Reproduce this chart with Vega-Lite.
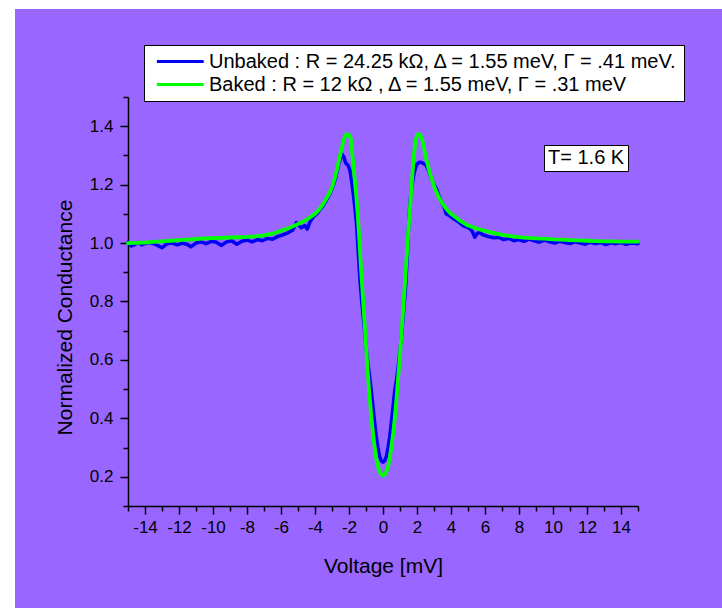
{
  "$schema": "https://vega.github.io/schema/vega-lite/v6.json",
  "width": 707,
  "height": 599,
  "autosize": {"type": "none"},
  "padding": {"left": 15, "top": 9, "right": 0, "bottom": 0},
  "background": "white",
  "view": {"fill": "#9966FF", "stroke": null},
  "config": {"font": "Liberation Sans"},
  "datasets": {
    "unbaked": [
      {"v":-15,"g":1.003},{"v":-14.8,"g":0.99},{"v":-14.6,"g":0.995},{"v":-14.4,"g":1.002},{"v":-14.2,"g":0.994},{"v":-14,"g":0.998},{"v":-13.7,"g":1.002},{"v":-13.4,"g":0.996},{"v":-13,"g":0.984},{"v":-12.7,"g":0.998},{"v":-12.4,"g":1.0},{"v":-12.1,"g":0.994},{"v":-11.8,"g":1.0},{"v":-11.5,"g":0.995},{"v":-11.3,"g":0.987},{"v":-11,"g":1.0},{"v":-10.7,"g":1.004},{"v":-10.4,"g":0.998},{"v":-10.1,"g":1.006},{"v":-9.8,"g":1.003},{"v":-9.5,"g":0.992},{"v":-9.2,"g":1.004},{"v":-8.9,"g":1.008},{"v":-8.6,"g":0.996},{"v":-8.3,"g":1.006},{"v":-8,"g":1.01},{"v":-7.7,"g":1.004},{"v":-7.4,"g":1.012},{"v":-7.1,"g":1.008},{"v":-6.8,"g":1.016},{"v":-6.5,"g":1.013},{"v":-6.2,"g":1.022},{"v":-5.9,"g":1.028},{"v":-5.6,"g":1.035},{"v":-5.3,"g":1.045},{"v":-5.1,"g":1.07},{"v":-4.95,"g":1.06},{"v":-4.8,"g":1.052},{"v":-4.6,"g":1.06},{"v":-4.46,"g":1.048},{"v":-4.3,"g":1.072},{"v":-4.1,"g":1.09},{"v":-3.9,"g":1.1},{"v":-3.7,"g":1.115},{"v":-3.5,"g":1.13},{"v":-3.25,"g":1.155},{"v":-3,"g":1.185},{"v":-2.8,"g":1.22},{"v":-2.65,"g":1.26},{"v":-2.5,"g":1.29},{"v":-2.42,"g":1.305},{"v":-2.3,"g":1.295},{"v":-2.2,"g":1.275},{"v":-2.05,"g":1.265},{"v":-1.95,"g":1.25},{"v":-1.85,"g":1.215},{"v":-1.75,"g":1.17},{"v":-1.65,"g":1.12},{"v":-1.55,"g":1.06},{"v":-1.45,"g":0.96},{"v":-1.35,"g":0.87},{"v":-1.25,"g":0.8},{"v":-1.1,"g":0.71},{"v":-1,"g":0.65},{"v":-0.9,"g":0.59},{"v":-0.8,"g":0.55},{"v":-0.7,"g":0.5},{"v":-0.6,"g":0.445},{"v":-0.5,"g":0.39},{"v":-0.4,"g":0.34},{"v":-0.3,"g":0.3},{"v":-0.2,"g":0.27},{"v":-0.1,"g":0.255},{"v":0,"g":0.25},{"v":0.1,"g":0.255},{"v":0.2,"g":0.27},{"v":0.3,"g":0.3},{"v":0.4,"g":0.34},{"v":0.5,"g":0.39},{"v":0.6,"g":0.445},{"v":0.7,"g":0.5},{"v":0.8,"g":0.533},{"v":0.9,"g":0.58},{"v":1,"g":0.63},{"v":1.1,"g":0.69},{"v":1.2,"g":0.76},{"v":1.3,"g":0.83},{"v":1.35,"g":0.87},{"v":1.42,"g":0.95},{"v":1.48,"g":1.03},{"v":1.55,"g":1.1},{"v":1.62,"g":1.16},{"v":1.68,"g":1.19},{"v":1.8,"g":1.23},{"v":1.9,"g":1.255},{"v":2,"g":1.27},{"v":2.16,"g":1.277},{"v":2.3,"g":1.275},{"v":2.45,"g":1.27},{"v":2.55,"g":1.265},{"v":2.7,"g":1.245},{"v":2.85,"g":1.22},{"v":3,"g":1.2},{"v":3.14,"g":1.187},{"v":3.3,"g":1.16},{"v":3.45,"g":1.14},{"v":3.6,"g":1.122},{"v":3.72,"g":1.1},{"v":3.9,"g":1.095},{"v":4.1,"g":1.085},{"v":4.3,"g":1.078},{"v":4.5,"g":1.07},{"v":4.7,"g":1.06},{"v":4.9,"g":1.055},{"v":5.1,"g":1.05},{"v":5.25,"g":1.04},{"v":5.4,"g":1.02},{"v":5.55,"g":1.034},{"v":5.7,"g":1.035},{"v":5.9,"g":1.028},{"v":6.2,"g":1.022},{"v":6.5,"g":1.018},{"v":6.8,"g":1.02},{"v":7.1,"g":1.012},{"v":7.4,"g":1.016},{"v":7.7,"g":1.008},{"v":8,"g":1.012},{"v":8.3,"g":1.006},{"v":8.6,"g":1.014},{"v":8.9,"g":1.008},{"v":9.2,"g":1.003},{"v":9.5,"g":1.01},{"v":9.8,"g":1.004},{"v":10.1,"g":1.0},{"v":10.4,"g":1.006},{"v":10.7,"g":1.002},{"v":11,"g":0.998},{"v":11.3,"g":1.004},{"v":11.6,"g":1.0},{"v":11.9,"g":0.996},{"v":12.2,"g":1.003},{"v":12.5,"g":0.998},{"v":12.8,"g":1.002},{"v":13.1,"g":0.995},{"v":13.4,"g":1.001},{"v":13.7,"g":0.998},{"v":14,"g":1.002},{"v":14.3,"g":0.996},{"v":14.6,"g":1.0},{"v":15,"g":0.998}
    ],
    "baked": [
      {"v":-15,"g":1.0},{"v":-14.5,"g":1.001},{"v":-14,"g":1.002},{"v":-13.5,"g":1.004},{"v":-13,"g":1.006},{"v":-12.5,"g":1.008},{"v":-12,"g":1.01},{"v":-11.5,"g":1.012},{"v":-11,"g":1.014},{"v":-10.5,"g":1.016},{"v":-10,"g":1.017},{"v":-9.5,"g":1.018},{"v":-9,"g":1.019},{"v":-8.5,"g":1.02},{"v":-8,"g":1.021},{"v":-7.5,"g":1.023},{"v":-7,"g":1.026},{"v":-6.5,"g":1.032},{"v":-6,"g":1.042},{"v":-5.5,"g":1.052},{"v":-5,"g":1.065},{"v":-4.5,"g":1.08},{"v":-4,"g":1.1},{"v":-3.75,"g":1.115},{"v":-3.5,"g":1.135},{"v":-3.25,"g":1.16},{"v":-3,"g":1.19},{"v":-2.8,"g":1.23},{"v":-2.6,"g":1.28},{"v":-2.45,"g":1.32},{"v":-2.3,"g":1.355},{"v":-2.2,"g":1.37},{"v":-2.1,"g":1.373},{"v":-2,"g":1.37},{"v":-1.9,"g":1.36},{"v":-1.8,"g":1.3},{"v":-1.7,"g":1.24},{"v":-1.6,"g":1.18},{"v":-1.5,"g":1.11},{"v":-1.4,"g":1.02},{"v":-1.3,"g":0.92},{"v":-1.2,"g":0.83},{"v":-1.1,"g":0.74},{"v":-1,"g":0.65},{"v":-0.9,"g":0.56},{"v":-0.8,"g":0.48},{"v":-0.7,"g":0.415},{"v":-0.6,"g":0.355},{"v":-0.5,"g":0.305},{"v":-0.4,"g":0.265},{"v":-0.3,"g":0.235},{"v":-0.2,"g":0.218},{"v":-0.1,"g":0.208},{"v":0,"g":0.205},{"v":0.1,"g":0.208},{"v":0.2,"g":0.218},{"v":0.3,"g":0.235},{"v":0.4,"g":0.265},{"v":0.5,"g":0.305},{"v":0.6,"g":0.35},{"v":0.7,"g":0.405},{"v":0.8,"g":0.47},{"v":0.9,"g":0.545},{"v":1,"g":0.62},{"v":1.1,"g":0.7},{"v":1.2,"g":0.785},{"v":1.3,"g":0.87},{"v":1.4,"g":0.96},{"v":1.5,"g":1.05},{"v":1.6,"g":1.13},{"v":1.7,"g":1.21},{"v":1.8,"g":1.29},{"v":1.9,"g":1.345},{"v":2,"g":1.37},{"v":2.1,"g":1.373},{"v":2.2,"g":1.37},{"v":2.3,"g":1.355},{"v":2.4,"g":1.33},{"v":2.5,"g":1.3},{"v":2.6,"g":1.275},{"v":2.75,"g":1.24},{"v":3,"g":1.195},{"v":3.25,"g":1.16},{"v":3.5,"g":1.135},{"v":3.75,"g":1.115},{"v":4,"g":1.1},{"v":4.5,"g":1.078},{"v":5,"g":1.06},{"v":5.5,"g":1.05},{"v":6,"g":1.042},{"v":6.5,"g":1.035},{"v":7,"g":1.028},{"v":7.5,"g":1.024},{"v":8,"g":1.02},{"v":8.5,"g":1.018},{"v":9,"g":1.016},{"v":9.5,"g":1.015},{"v":10,"g":1.013},{"v":10.5,"g":1.012},{"v":11,"g":1.01},{"v":11.5,"g":1.009},{"v":12,"g":1.008},{"v":12.5,"g":1.007},{"v":13,"g":1.006},{"v":13.5,"g":1.006},{"v":14,"g":1.005},{"v":14.5,"g":1.005},{"v":15,"g":1.005}
    ],
    "note": [{"label": "T= 1.6 K"}]
  },
  "encoding": {
    "x": {
      "field": "v", "type": "quantitative",
      "scale": {"domain": [-15, 15], "range": [113, 623], "nice": false, "zero": false},
      "axis": {
        "orient": "bottom", "offset": -102,
        "values": [-15,-14,-13,-12,-11,-10,-9,-8,-7,-6,-5,-4,-3,-2,-1,0,1,2,3,4,5,6,7,8,9,10,11,12,13,14,15],
        "labelExpr": "datum.value % 2 == 0 ? '' + datum.value : ''",
        "tickSize": {"condition": {"test": "datum.value % 2 == 0", "value": 8}, "value": 5},
        "grid": false, "domainColor": "black", "domainWidth": 1.5, "tickColor": "black", "tickWidth": 1.5,
        "labelColor": "black", "labelFontSize": 17, "labelPadding": 5, "labelFlush": false, "labelOverlap": false,
        "title": "Voltage [mV]", "titleFontSize": 21, "titleFontWeight": "normal", "titleColor": "black", "titlePadding": 20
      }
    },
    "y": {
      "field": "g", "type": "quantitative",
      "scale": {"domain": [0.1, 1.5], "range": [497, 88], "nice": false, "zero": false},
      "axis": {
        "orient": "left", "offset": -113,
        "values": [0.1,0.2,0.3,0.4,0.5,0.6,0.7,0.8,0.9,1.0,1.1,1.2,1.3,1.4,1.5],
        "labelExpr": "round(datum.value*10) % 2 == 0 ? format(datum.value, '.1f') : ''",
        "tickSize": {"condition": {"test": "round(datum.value*10) % 2 == 0", "value": 8}, "value": 5},
        "grid": false, "domainColor": "black", "domainWidth": 1.5, "tickColor": "black", "tickWidth": 1.5,
        "labelColor": "black", "labelFontSize": 17, "labelPadding": 7, "labelFlush": false, "labelOverlap": false,
        "title": "Normalized Conductance", "titleFontSize": 21, "titleFontWeight": "normal", "titleColor": "black", "titlePadding": 14, "titleY": 308
      }
    }
  },
  "layer": [
    {
      "data": {"name": "unbaked"},
      "mark": {"type": "line", "strokeWidth": 3.5, "strokeJoin": "round", "strokeCap": "round"},
      "encoding": {
        "color": {
          "datum": "Unbaked",
          "scale": {"domain": ["Unbaked", "Baked"], "range": ["#0000F5", "#00FF00"]},
          "legend": {
            "orient": "none", "legendX": 129, "legendY": 36, "direction": "vertical",
            "title": null, "fillColor": "white", "strokeColor": "black", "padding": 6, "rowPadding": 2,
            "symbolType": "M-0.4,0H4.8", "symbolSize": 324, "symbolStrokeWidth": 3,
            "labelFont": "Liberation Sans", "labelFontSize": 20, "labelColor": "black", "labelOffset": 38, "labelLimit": 1000,
            "labelExpr": "datum.label == 'Unbaked' ? 'Unbaked : R = 24.25 kΩ, Δ = 1.55 meV, Γ = .41 meV.' : 'Baked :  R = 12 kΩ , Δ = 1.55 meV, Γ = .31 meV'"
          }
        }
      }
    },
    {
      "data": {"name": "baked"},
      "mark": {"type": "line", "strokeWidth": 3.8, "strokeJoin": "round", "strokeCap": "round"},
      "encoding": {"color": {"datum": "Baked"}}
    },
    {
      "data": {"name": "note"},
      "mark": {"type": "point", "size": 1, "strokeWidth": 0, "filled": false},
      "encoding": {
        "x": {"datum": 0},
        "y": {"datum": 1},
        "shape": {
          "field": "label", "type": "nominal",
          "legend": {
            "orient": "none", "legendX": 529, "legendY": 136, "title": null,
            "values": ["T= 1.6 K"],
            "fillColor": "white", "strokeColor": "black", "padding": 3,
            "symbolSize": 1, "symbolOpacity": 0, "labelOffset": -19, "labelLimit": 300,
            "labelFont": "Liberation Sans", "labelFontSize": 20, "labelColor": "black"
          }
        }
      }
    }
  ]
}
